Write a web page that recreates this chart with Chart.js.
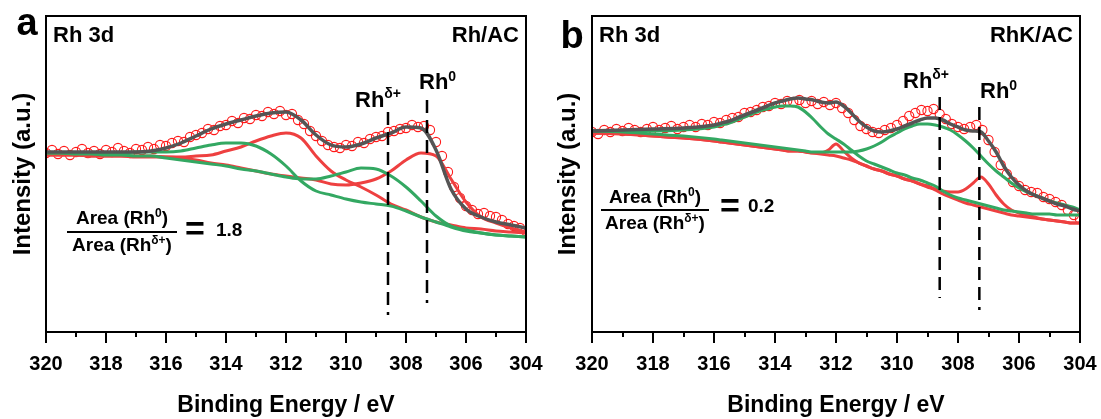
<!DOCTYPE html>
<html lang="en">
<head>
<meta charset="UTF-8">
<title>Rh 3d XPS</title>
<script src="https://cdn.jsdelivr.net/npm/chart.js"></script>
<style>
    body { margin: 0; background: #fff; }
    .panel { position: absolute; top: 0; height: 419px; }
    #panelA { left: 0; width: 550px; }
    #panelB { left: 550px; width: 551px; }
</style>
</head>
<body>
<div class="panel" id="panelA"><canvas id="chartA"></canvas></div>
<div class="panel" id="panelB"><canvas id="chartB"></canvas></div>
<script>
// ---- data (intensity in a.u.) ----
const dataEnergy = [320.0,319.8,319.6,319.4,319.2,319.0,318.8,318.6,318.4,318.2,318.0,317.8,317.6,317.4,317.2,317.0,316.8,316.6,316.4,316.2,
    316.0,315.8,315.6,315.4,315.2,315.0,314.8,314.6,314.4,314.2,314.0,313.8,313.6,313.4,313.2,313.0,312.8,312.6,312.4,312.2,
    312.0,311.8,311.6,311.4,311.2,311.0,310.8,310.6,310.4,310.2,310.0,309.8,309.6,309.4,309.2,309.0,308.8,308.6,308.4,308.2,
    308.0,307.8,307.6,307.4,307.2,307.0,306.8,306.6,306.4,306.2,306.0,305.8,305.6,305.4,305.2,305.0,304.8,304.6,304.4,304.2,304.0];

// Rh/AC
const measuredA = [179,182,178,181,177,180,183,179,181,178,182,180,184,181,179,183,182,185,183,187,
    186,189,191,190,195,197,199,203,202,206,207,211,209,214,213,217,216,220,218,221,
    217,218,212,208,201,196,191,187,185,184,187,186,190,189,193,195,196,200,201,203,
    204,207,205,206,202,190,176,160,145,134,126,122,118,119,116,115,112,108,106,104,101];
const fitEnergyA = [320,319.5,319,318.5,318,317.5,317,316.5,316,315.5,315,314.5,314,313.5,313,312.5,312,
    311.5,311,310.5,310,309.5,309,308.5,308,307.5,307,306.5,306,305.5,305,304.5,304];
const envelopeA = [180,180,180,180,180,180,180,181,184,189,196,203,208,212,216,219,220,
    212,197,187,185,188,194,199,205,204,182,143,123,115,110,107,104];
const rh0_32A = [177,177,177,176,176,176,176,176,175,175,176,177,181,185,191,196,199,
    194,176,161,152,145,137,128,122,115,110,107,104,103,101,100,99];
const rh0_52A = [177,177,177,176,176,176,175,175,175,174,172,169,167,164,161,158,156,
    154,152,148,147,149,153,161,172,179,176,153,130,115,109,104,100];
const rhd_32A = [179,179,179,179,179,179,180,180,180,181,184,187,189,189,186,178,166,
    151,141,137,133,130,128,126,121,115,110,105,101,99,97,96,95];
const rhd_52A = [179,179,178,178,177,177,176,176,174,172,170,168,166,163,161,158,155,
    153,153,156,160,164,163,156,145,131,116,106,102,99,97,96,95];

// RhK/AC
const measuredB = [200,198,202,200,203,201,204,202,200,203,205,202,204,206,203,205,207,205,208,207,
    210,209,212,214,215,219,220,222,225,226,229,228,231,230,232,229,231,228,230,227,
    229,224,219,212,206,203,200,199,202,204,207,211,216,219,222,221,223,218,213,208,
    205,203,205,207,202,192,180,167,158,150,146,142,140,139,135,133,130,127,122,117,113];
const fitEnergyB = [320,319,318,317,316,315.75,315.5,315.25,315,314.75,314.5,314.25,314,313.75,313.5,313.25,313,
    312.75,312.5,312.25,312,311.75,311.5,311.25,311,310.75,310.5,310.25,310,309.75,309.5,309.25,309,
    308.75,308.5,308.25,308,307.75,307.5,307.25,307,306.75,306.5,306.25,306,305.75,305.5,305.25,305,
    304.75,304.5,304.25,304];
const envelopeB = [201,202,203,204,207,209,211,214,217,220,223,226,229,231,233,234,233,
    232,230,229,230,226,219,211,205,201,200,201,203,206,209,212,214,
    214,212,208,205,202,201,200,191,180,166,155,147,141,137,134,131,
    128,126,123,121];
const rh0_32B = [199,198,196,194,191,190,189,188,187,186,185,184,183,182,181,181,180,
    179,179,182,188,181,174,169,166,163,161,158,156,153,151,148,145,
    142,138,135,132,129,127,125,123,121,119,117,116,115,114,113,112,
    111,110,109,109];
const rh0_52B = [199,198,196,194,191,190,189,188,187,186,185,184,183,182,181,181,180,
    179,178,177,176,174,172,169,166,163,161,158,156,153,151,148,146,
    143,141,140,140,143,149,155,148,137,128,122,119,117,115,113,112,
    111,110,109,109];
const rhd_32B = [201,201,201,202,205,207,209,212,215,218,221,223,225,226,226,225,220,
    213,205,198,193,188,182,176,171,168,165,162,159,157,154,152,149,
    146,141,137,134,132,130,128,126,124,122,121,120,119,118,118,118,
    117,117,117,117];
const rhd_52B = [201,200,198,196,193,192,191,190,189,188,187,186,185,184,183,182,181,
    180,180,180,180,180,180,181,183,186,190,195,199,203,206,208,208,
    207,205,202,197,191,184,176,168,161,155,149,144,140,137,134,131,
    129,127,125,122];

// peak positions marked with dashed lines (eV) and their vertical extent (a.u.)
const markerEnergy = [308.6, 307.3];
const markerSpanA = [[220, 17], [232, 29]];
const markerSpanB = [[235, 34], [225, 22]];

const FONT = '"Liberation Sans", Arial, Helvetica, sans-serif';
const RED = '#ee4040';
const GREEN = '#33a862';
const GREY = '#555555';

function bold(size) { return 'bold ' + size + 'px ' + FONT; }

function pairs(xs, ys) { return xs.map((x, i) => ({ x: x, y: ys[i] })); }

// draw text made of runs [text, size, rise]
function richText(ctx, parts, x, y, align) {
    let w = 0;
    parts.forEach(p => { ctx.font = bold(p[1]); w += ctx.measureText(p[0]).width; });
    let cx = align === 'center' ? x - w / 2 : (align === 'right' ? x - w : x);
    ctx.textAlign = 'left';
    ctx.textBaseline = 'alphabetic';
    parts.forEach(p => {
        ctx.font = bold(p[1]);
        ctx.fillText(p[0], cx, y - (p[2] || 0));
        cx += ctx.measureText(p[0]).width;
    });
}

function decorPlugin(d) {
    return {
        id: 'decor',
        afterDraw(chart) {
            const ctx = chart.ctx;
            const a = chart.chartArea;
            const xs = chart.scales.x;
            ctx.save();
            ctx.strokeStyle = '#000';
            ctx.fillStyle = '#000';
            ctx.lineWidth = 2;
            ctx.strokeRect(a.left, a.top, a.right - a.left, a.bottom - a.top);
            // ticks, major every 2 eV, minor every 1 eV
            for (let e = 304; e <= 320; e++) {
                const px = Math.round(xs.getPixelForValue(e));
                const len = e % 2 === 0 ? 11 : 5;
                ctx.beginPath();
                ctx.moveTo(px, a.bottom);
                ctx.lineTo(px, a.bottom + len);
                ctx.stroke();
            }
            ctx.textAlign = 'center';
            ctx.textBaseline = 'alphabetic';
            ctx.font = bold(38);
            ctx.fillText(d.letter, d.letterX, d.letterY);
            richText(ctx, [['Rh 3d', 22]], d.titleX, 42, 'left');
            richText(ctx, [[d.sample, 22]], a.right - d.sampleGap, 42, 'right');
            richText(ctx, [['Rh', 22], ['\u03b4+', 14, 9]], d.deltaX, d.deltaY, 'left');
            richText(ctx, [['Rh', 22], ['0', 14, 8]], d.zeroX, d.zeroY, 'left');
            // area ratio
            const f = d.frac;
            richText(ctx, [['Area (Rh', 19], ['0', 12, 7], [')', 19]], (f.x1 + f.x2) / 2, f.numY, 'center');
            richText(ctx, [['Area (Rh', 19], ['\u03b4+', 12, 7], [')', 19]], (f.x1 + f.x2) / 2, f.denY, 'center');
            ctx.beginPath();
            ctx.moveTo(f.x1, f.lineY);
            ctx.lineTo(f.x2, f.lineY);
            ctx.stroke();
            ctx.font = bold(34);
            ctx.textAlign = 'center';
            ctx.textBaseline = 'middle';
            ctx.fillText('=', f.eqX, f.eqY);
            ctx.font = bold(19);
            ctx.textAlign = 'left';
            ctx.fillText(f.value, f.valX, f.valY);
            ctx.restore();
        }
    };
}

function makeChart(id, p) {
    const curve = (vals, color, order, width) => ({
        data: pairs(p.fitEnergy, vals), showLine: true, pointRadius: 0,
        borderColor: color, borderWidth: width || 3, cubicInterpolationMode: 'monotone', order: order
    });
    const datasets = [
        { data: pairs(dataEnergy, p.measured), showLine: false, pointRadius: 4.6,
          pointBackgroundColor: 'rgba(0,0,0,0)', pointBorderColor: '#ff1a1a', pointBorderWidth: 1.1, order: 5 },
        curve(p.red1, RED, 4),
        curve(p.red2, RED, 4),
        curve(p.green1, GREEN, 3),
        curve(p.green2, GREEN, 3),
        curve(p.envelope, GREY, 2, 3.5)
    ];
    markerEnergy.forEach((e, i) => {
        datasets.push({ data: [{ x: e, y: p.markers[i][0] }, { x: e, y: p.markers[i][1] }],
            showLine: true, pointRadius: 0, borderColor: '#000', borderWidth: 2.5,
            borderDash: [13, 7], order: 1 });
    });
    return new Chart(document.getElementById(id), {
        type: 'scatter',
        data: { datasets: datasets },
        options: {
            responsive: true, maintainAspectRatio: false, animation: false, devicePixelRatio: 1,
            layout: { padding: { left: 0, right: p.rightPad, top: 16, bottom: 0 } },
            plugins: { legend: { display: false }, tooltip: { enabled: false } },
            scales: {
                x: {
                    type: 'linear', min: 304, max: 320, reverse: true,
                    grid: { display: false, drawTicks: false }, border: { display: false },
                    ticks: { stepSize: 2, autoSkip: false, maxRotation: 0, padding: 20, color: '#000', font: { family: FONT, size: 20, weight: 'bold' } },
                    title: { display: true, text: 'Binding Energy / eV', color: '#000', padding: 0, font: { family: FONT, size: 23, weight: 'bold' } },
                    afterFit(s) { s.height = 87; s.paddingLeft = 0; s.paddingRight = 0; }
                },
                y: {
                    min: 0, max: 316,
                    grid: { display: false, drawTicks: false }, border: { display: false },
                    ticks: { display: false },
                    title: { display: true, text: 'Intensity (a.u.)', color: '#000', padding: { top: p.yTitlePad, bottom: 0 }, font: { family: FONT, size: 24, weight: 'bold' } },
                    afterFit(s) { s.width = p.leftWidth; s.paddingTop = 0; s.paddingBottom = 0; }
                }
            }
        },
        plugins: [decorPlugin(p.decor)]
    });
}

makeChart('chartA', {
    measured: measuredA, fitEnergy: fitEnergyA, envelope: envelopeA,
    red1: rh0_32A, red2: rh0_52A, green1: rhd_32A, green2: rhd_52A,
    markers: markerSpanA, leftWidth: 46, rightPad: 24, yTitlePad: 9,
    decor: { letter: 'a', letterX: 27, letterY: 35, titleX: 53, sample: 'Rh/AC', sampleGap: 7,
        deltaX: 355, deltaY: 107, zeroX: 419, zeroY: 89,
        frac: { x1: 67, x2: 177, lineY: 232, numY: 224, denY: 251, eqX: 195, eqY: 231, valX: 216, valY: 231, value: '1.8' } }
});

makeChart('chartB', {
    measured: measuredB, fitEnergy: fitEnergyB, envelope: envelopeB,
    red1: rh0_32B, red2: rh0_52B, green1: rhd_32B, green2: rhd_52B,
    markers: markerSpanB, leftWidth: 42, rightPad: 21, yTitlePad: 4,
    decor: { letter: 'b', letterX: 22, letterY: 48, titleX: 49, sample: 'RhK/AC', sampleGap: 7,
        deltaX: 353, deltaY: 88, zeroX: 430, zeroY: 98,
        frac: { x1: 51, x2: 159, lineY: 210, numY: 203, denY: 229, eqX: 180, eqY: 208, valX: 198, valY: 207, value: '0.2' } }
});
</script>
</body>
</html>
